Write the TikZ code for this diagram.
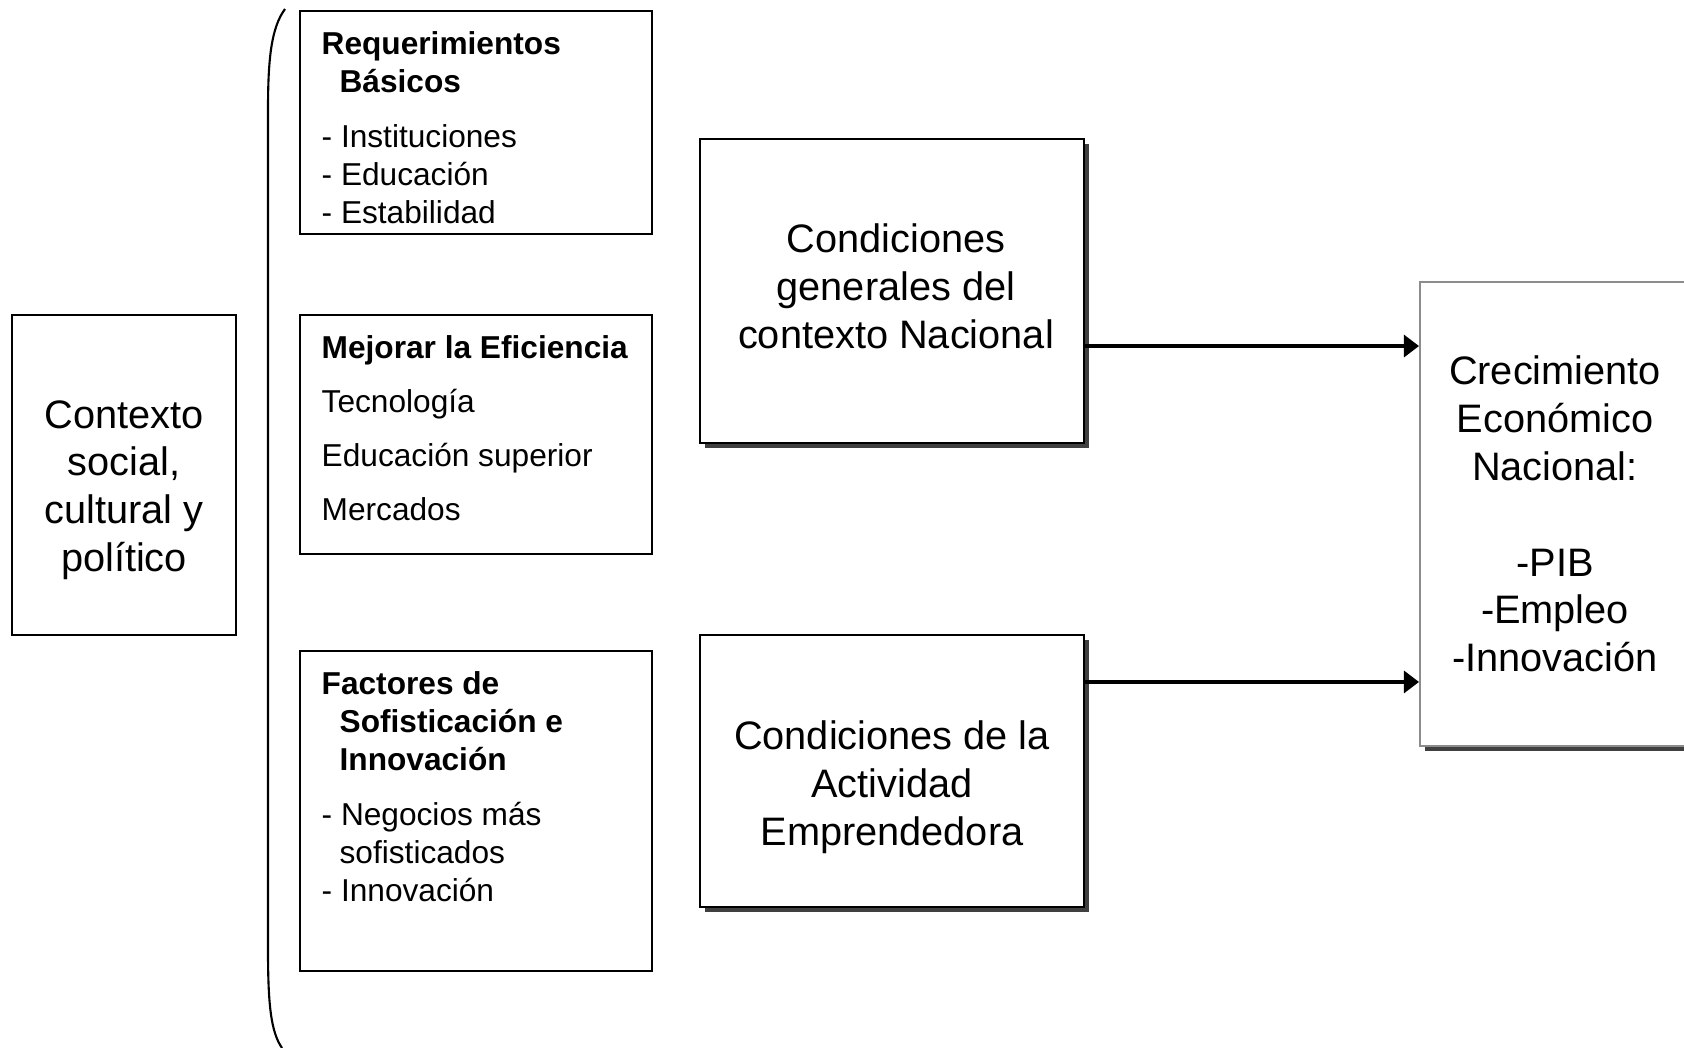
\documentclass[tikz,border=0pt]{standalone}
\usepackage{fontspec}
\setmainfont{Liberation Sans}
\usetikzlibrary{arrows.meta,shadows}

\begin{document}
\begin{tikzpicture}[x=0.01cm, y=-0.01cm,
  box/.style={draw, line width=0.5pt, inner sep=0pt, align=center,
    font=\fontsize{11.3}{13.6}\selectfont},
  shadowbox/.style={box, fill=white,
    drop shadow={shadow xshift=1.5pt, shadow yshift=-1.5pt, fill=black!75, opacity=1}},
  bigtext/.style={inner sep=0pt, align=center, font=\fontsize{11.3}{13.6}\selectfont},
  paneltext/.style={anchor=north west, inner sep=0pt, align=left,
    font=\fontsize{9}{10.8}\selectfont},
  flow/.style={-{Triangle[length=4.3pt, width=6.2pt]}, line width=1.2pt}]
  \useasboundingbox (0,0) rectangle (1684,1048);

  % Context on the left
  \node[box, minimum width=2.24cm, minimum height=3.2cm] (ctx) at (124,475) {};
  \node[bigtext] (ctxtxt) at (124,490) {Contexto\\social,\\cultural y\\político};

  % Bracket
  \draw[line width=0.6pt] (285,9) .. controls (271,28) and (268,60) .. (268,110)
    -- (268,950) .. controls (268,1005) and (271,1032) .. (282,1048);

  % Pillars
  \node[box, minimum width=3.52cm, minimum height=2.23cm] (req) at (476,122.5) {};
  \node[paneltext] (reqtxt) at (321,31)
    {\textbf{Requerimientos}\\\hspace*{5.1pt}\textbf{Básicos}\\[4.8pt]
     - Instituciones\\- Educación\\- Estabilidad};

  \node[box, minimum width=3.52cm, minimum height=2.39cm] (mej) at (476,434.5) {};
  \node[paneltext] (mejtxt) at (321,335)
    {\textbf{Mejorar la Eficiencia}\\[4.5pt]Tecnología\\[4.5pt]
     Educación superior\\[4.5pt]Mercados};

  \node[box, minimum width=3.52cm, minimum height=3.2cm] (fac) at (476,811) {};
  \node[paneltext] (factxt) at (321,671)
    {\textbf{Factores de}\\\hspace*{5.1pt}\textbf{Sofisticación e}\\
     \hspace*{5.1pt}\textbf{Innovación}\\[4.8pt]
     - Negocios más\\\hspace*{5.1pt}sofisticados\\- Innovación};

  % Conditions
  \node[shadowbox, minimum width=3.84cm, minimum height=3.04cm] (gen) at (892,291) {};
  \node[bigtext] (gentxt) at (896,286) {Condiciones\\generales del\\contexto Nacional};
  \node[shadowbox, minimum width=3.84cm, minimum height=2.72cm] (act) at (892,771) {};
  \node[bigtext] (acttxt) at (892,787) {Condiciones de la\\Actividad\\Emprendedora};

  % Outcome
  \node[shadowbox, draw=gray!90, minimum width=2.7cm, minimum height=4.64cm] (crec) at (1555,514)
    {Crecimiento\\Económico\\Nacional:\\[13.6pt]-PIB\\-Empleo\\-Innovación};

  % Arrows
  \foreach \src/\dy in {gen/-0.55cm, act/0.89cm}
    \draw[flow] ([yshift=\dy]\src.east) -- ([yshift=\dy]\src.east -| crec.west);
\end{tikzpicture}
\end{document}
